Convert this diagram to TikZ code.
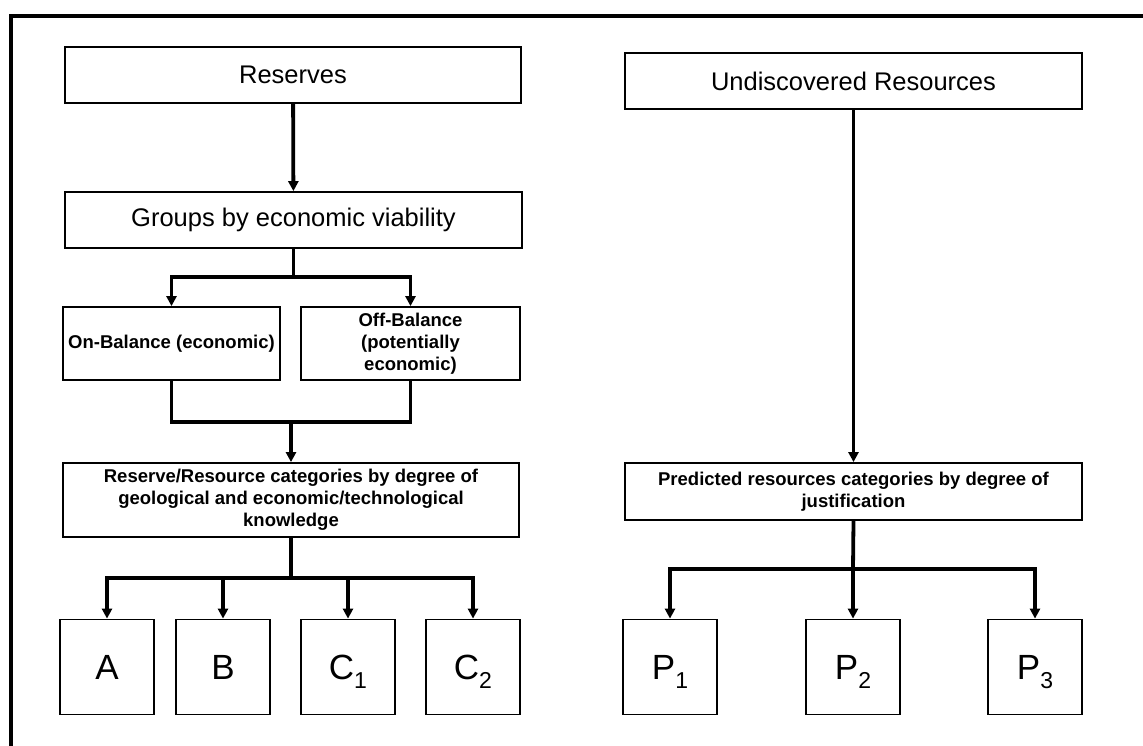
\documentclass[tikz,border=0pt]{standalone}
\usepackage{fontspec}
\setmainfont{Liberation Sans}
\usetikzlibrary{arrows.meta}
\newcommand{\subdig}[1]{\raisebox{-9pt}[0pt][0pt]{\fontsize{23}{23}\selectfont #1}}
\begin{document}
\begin{tikzpicture}[x=1pt,y=-1pt,
  box/.style={draw,line width=1.8pt,inner sep=0pt,align=center,anchor=center},
  bigbox/.style={box,font=\fontsize{25.5}{30}\selectfont},
  smallbox/.style={box,font=\fontsize{18.5}{22}\selectfont\bfseries},
  letterbox/.style={box,minimum width=94pt,minimum height=95pt,font=\fontsize{35}{35}\selectfont},
  conn/.style={line width=3.8pt},
  arr/.style={conn,-{Triangle[length=10pt,width=10pt]}},
  frame/.style={line width=4pt}]
\useasboundingbox (0,0) rectangle (1143,746);
\draw[frame] (11,746) -- (11,16.5) -- (1143,16.5);
% left column
\node[bigbox,minimum width=456pt,minimum height=56pt] (res) at (293,75) {Reserves};
\node[bigbox,minimum width=457pt,minimum height=56pt] (grp) at (293.5,220) {Groups by economic viability};
\node[smallbox,minimum width=217pt,minimum height=73pt] (on) at (171.5,343.5) {On-Balance (economic)};
\node[smallbox,minimum width=219pt,minimum height=73pt] (off) at (410.5,343.5) {Off-Balance\\(potentially\\economic)};
\node[smallbox,minimum width=456pt,minimum height=74pt] (rrc) at (291,500) {Reserve/Resource categories by degree of\\geological and economic/technological\\knowledge};
\node[letterbox] (A) at (107,667) {A};
\node[letterbox] (B) at (223,667) {B};
\node[letterbox] (C1) at (348,667) {C\subdig{1}};
\node[letterbox] (C2) at (473,667) {C\subdig{2}};
% right column
\node[bigbox,minimum width=457pt,minimum height=56pt] (und) at (853.5,81) {Undiscovered Resources};
\node[smallbox,minimum width=457pt,minimum height=57pt] (pred) at (853.5,491.5) {Predicted resources categories by degree of\\justification};
\node[letterbox] (P1) at (670,667) {P\subdig{1}};
\node[letterbox] (P2) at (853,667) {P\subdig{2}};
\node[letterbox] (P3) at (1035,667) {P\subdig{3}};
% junctions
\coordinate (j1) at (293.5,277);
\coordinate (j2) at (291,422);
\coordinate (j3) at (291,578);
\coordinate (j4) at (853,569);
% connectors
\draw[arr] (res) -- (grp);
\draw[conn] (grp.south) -- (j1);
\draw[arr] (j1) -| (on.north);
\draw[arr] (j1) -| (off.north);
\draw[conn] (on.south) |- (j2) -| (off.south);
\draw[arr] (j2) -- (rrc.north);
\draw[conn] (rrc.south) -- (j3);
\foreach \t in {A,B,C1,C2} \draw[arr] (j3) -| (\t.north);
\draw[arr] (und.south -| pred.north) -- (pred.north);
\draw[conn] (pred.south) -- (j4);
\foreach \t in {P1,P2,P3} \draw[arr] (j4) -| (\t.north);
\end{tikzpicture}
\end{document}
